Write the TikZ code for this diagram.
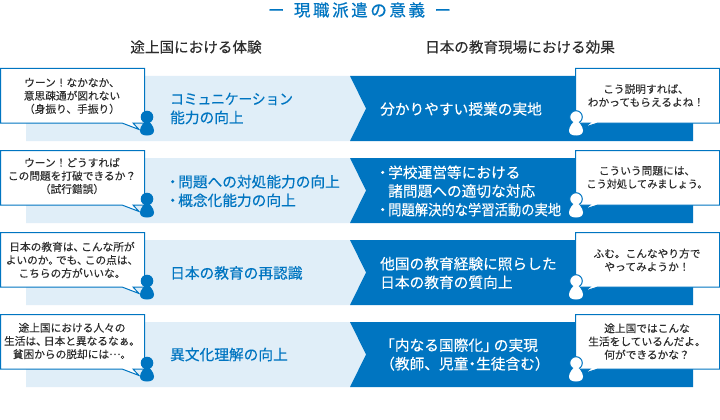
\documentclass[tikz,border=0pt]{standalone}
\usepackage{graphicx}
\usepackage{fontspec}
\setmainfont{Noto Sans CJK JP}
\newfontfamily\lightbold[FakeBold=0.12]{Noto Sans CJK JP}
\newfontfamily\medfont[FakeBold=0.3]{Noto Sans CJK JP}
\newfontfamily\boldfont[FakeBold=0.6]{Noto Sans CJK JP}
\definecolor{mainblue}{RGB}{0,117,193}
\definecolor{paleblue}{RGB}{224,238,248}
\definecolor{inkgrey}{RGB}{45,45,45}
\newcommand{\dotitem}{\makebox[8pt][l]{\hspace*{-4.85pt}・}}
\newcommand{\dotgap}{\hspace*{8pt}}
\newcommand{\kt}{\kern-3pt }
\tikzset{
  x=1pt,y=-1pt,
  bubbleframe/.style={draw=mainblue,fill=white,line width=1pt,line join=miter},
  saytext/.style={font=\lightbold\fontsize{10.7}{13.2}\selectfont,text=inkgrey,align=center,inner sep=0pt,anchor=center},
  headtext/.style={font=\lightbold\fontsize{14.6}{18}\selectfont,text=inkgrey,inner sep=0pt},
  lefttext/.style={font=\medfont\fontsize{14.7}{18.6}\selectfont,text=mainblue,align=left,anchor=west,inner sep=0pt},
  righttext/.style={font=\medfont\fontsize{14.7}{18.6}\selectfont,text=white,align=left,anchor=west,inner sep=0pt},
}
\newcommand{\rowback}{%
  \fill[paleblue] (26,76) -- (350,76) -- (366,108.5) -- (350,141) -- (26,141) -- cycle;
  \fill[mainblue] (350,76) -- (693,76) -- (693,141) -- (350,141) -- (366,108.5) -- cycle;
  \draw[bubbleframe] (0.5,68.5) -- (144.5,68.5) -- (144.5,123) -- (133,123) -- (139,129.5) -- (122,123) -- (0.5,123) -- cycle;
  \fill[mainblue] (147,117) circle (6.3);
  \fill[mainblue] (147,121) .. controls (150,121) and (154,127) .. (154,130.5) .. controls (154,134) and (151,135.5) .. (147,135.5) .. controls (143,135.5) and (140,134) .. (140,130.5) .. controls (140,127) and (144,121) .. (147,121) -- cycle;
  \draw[bubbleframe] (575.5,68.5) -- (719.5,68.5) -- (719.5,123) -- (598,123) -- (584,127.5) -- (590,123) -- (575.5,123) -- cycle;
  \draw[mainblue,fill=white,line width=1pt] (576,117) circle (6.3);
  \fill[white] (576,121) .. controls (579,121) and (583,127) .. (583,130.5) .. controls (583,134) and (580,135.5) .. (576,135.5) .. controls (572,135.5) and (569,134) .. (569,130.5) .. controls (569,127) and (573,121) .. (576,121) -- cycle;
}
\begin{document}
\begin{tikzpicture}
\useasboundingbox (0,0) rectangle (720,420);
\fill[white] (0,0) rectangle (720,420);
\begin{scope}[yshift=0pt]\rowback\end{scope}
\begin{scope}[yshift=-82pt]\rowback\end{scope}
\begin{scope}[yshift=-164pt]\rowback\end{scope}
\begin{scope}[yshift=-246pt]\rowback\end{scope}

\node[font=\boldfont\fontsize{16.5}{18}\selectfont,text=mainblue,inner sep=0pt] (title) at (359.5,10) {ー\hspace{9.5pt}現\hspace{2.6pt}職\hspace{2.6pt}派\hspace{2.6pt}遣\hspace{2.6pt}の\hspace{2.6pt}意\hspace{2.6pt}義\hspace{9.5pt}ー};
\node[headtext] (headL) at (196,47) {途上国における体験};
\node[headtext] (headR) at (520,47) {日本の教育現場における効果};

\node[saytext] (sayL1) at (72,96) {ウーン！なかなか、\\意思疎通が図れない\\（身振り、手振り）};
\node[saytext] (sayL2) at (72,176) {ウーン！どうすれば\\この問題を打破できるか？\\（試行錯誤）};
\node[saytext] (sayL3) at (72,260) {日本の教育は、\kt こんな所が\\よいのか。\kt でも、\kt この点は、\\こちらの方がいいな。};
\node[saytext] (sayL4) at (72,341) {途上国における人々の\\生活は、\kt 日本と異なるなぁ。\\貧困からの脱却には\raisebox{3.2pt}{…}。};

\node[saytext] (sayR1) at (646,95.5) {こう説明すれば、\\わかってもらえるよね！};
\node[saytext] (sayR2) at (647,177.5) {こういう問題には、\\\scalebox{0.95}[1]{こう対処してみましょう。}};
\node[saytext] (sayR3) at (647,260) {ふむ。こんなやり方で\\やってみようか！};
\node[saytext] (sayR4) at (647,341.5) {途上国ではこんな\\生活をしているんだよ。\\何ができるかな？};

\node[lefttext] (effL1) at (170,108.5) {\scalebox{0.93}[1]{コミュニケーション}\\能力の向上};
\node[lefttext] (effL2) at (170,191) {\dotitem 問題への対処能力の向上\\\dotitem 概念化能力の向上};
\node[lefttext] (effL3) at (170,273) {日本の教育の再認識};
\node[lefttext] (effL4) at (170,354.5) {異文化理解の向上};

\node[righttext] (effR1) at (380,109) {分かりやすい授業の実地};
\node[righttext] (effR2) at (380,191) {\dotitem 学校運営等における\\\dotgap 諸問題への適切な対応\\\dotitem \scalebox{0.905}[1]{問題解決的な学習活動の実地}};
\node[righttext] (effR3) at (380,273) {他国の教育経験に照らした\\日本の教育の質向上};
\node[righttext] (effR4) at (380,354.5) {「内なる国際化」\kern-4pt の実現\\（教師、児童\kern-3.5pt ・\kern-3.5pt 生徒含む）};
\end{tikzpicture}
\end{document}
